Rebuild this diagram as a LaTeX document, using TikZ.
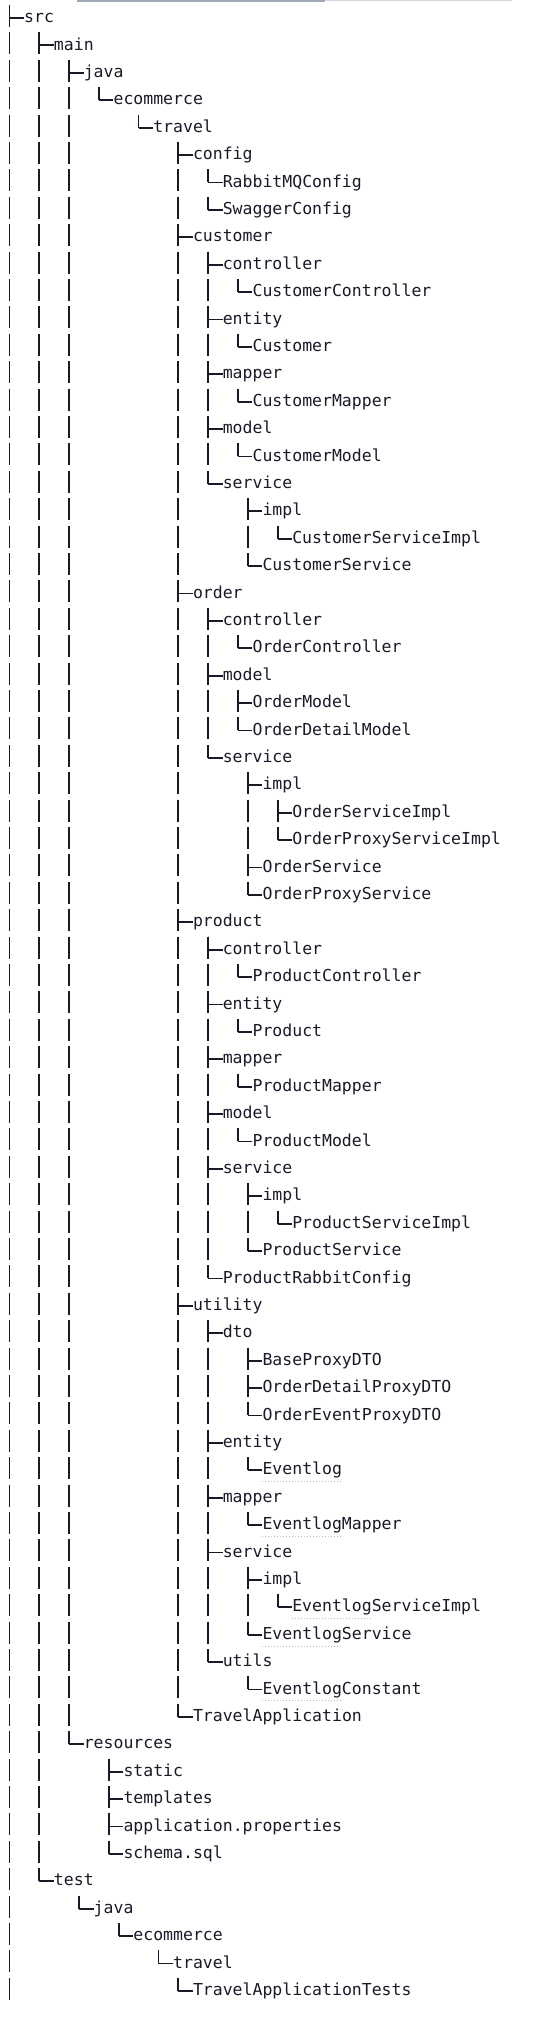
\documentclass[tikz,border=0pt]{standalone}
\usepackage{fontspec}
\setmonofont{DejaVu Sans Mono}
\usepackage{xcolor}
\usetikzlibrary{calc}

\definecolor{ink}{RGB}{25,25,40}
\definecolor{tabbar}{RGB}{160,168,185}
\definecolor{tabline}{RGB}{215,215,222}
\definecolor{typogreen}{RGB}{165,200,165}

\begin{document}
\begin{tikzpicture}[
    x=1pt, y=1pt,
    % one line of the listing, west anchor on the middle of the x-height
    entry/.style={anchor=west, inner sep=0pt, text height=13pt, text depth=3.6pt,
      font=\ttfamily\fontsize{16.5}{16.5}\selectfont, text=ink},
    % vertical guide, broken between lines
    stem/.style={draw=ink, line width=1.8pt, dash pattern=on 22pt off 5.4pt},
    arm/.style={draw=ink, line width=1.8pt},
    typo/.style={draw=typogreen, line width=1pt, dotted},
  ]
  \useasboundingbox (0,0) rectangle (538,-2026);

  % strip left at the top of the screenshot
  \fill[tabbar] (77,0) rectangle (325,-2);
  \fill[tabline] (325,-0.4) rectangle (512,-1.4);

  % line / column / name / text
  \foreach \row/\col/\nm/\lbl in {
      1/0/src/src, 2/3/main/main, 3/6/java/java, 4/9/ecom/ecommerce,
      5/13/travel/travel, 6/17/config/config, 7/20/rabbitcfg/RabbitMQConfig,
      8/20/swaggercfg/SwaggerConfig, 9/17/customer/customer,
      10/20/custctrl/controller, 11/23/custctrlcls/CustomerController,
      12/20/custent/entity, 13/23/custentcls/Customer,
      14/20/custmap/mapper, 15/23/custmapcls/CustomerMapper,
      16/20/custmod/model, 17/23/custmodcls/CustomerModel,
      18/20/custsvc/service, 19/24/custimpl/impl,
      20/27/custimplcls/CustomerServiceImpl, 21/24/custsvccls/CustomerService,
      22/17/order/order, 23/20/ordctrl/controller, 24/23/ordctrlcls/OrderController,
      25/20/ordmod/model, 26/23/ordmodcls/OrderModel, 27/23/orddetcls/OrderDetailModel,
      28/20/ordsvc/service, 29/24/ordimpl/impl, 30/27/ordimplcls/OrderServiceImpl,
      31/27/ordproxyimplcls/OrderProxyServiceImpl, 32/24/ordsvccls/OrderService,
      33/24/ordproxycls/OrderProxyService,
      34/17/product/product, 35/20/prodctrl/controller,
      36/23/prodctrlcls/ProductController, 37/20/prodent/entity,
      38/23/prodentcls/Product, 39/20/prodmap/mapper, 40/23/prodmapcls/ProductMapper,
      41/20/prodmod/model, 42/23/prodmodcls/ProductModel, 43/20/prodsvc/service,
      44/24/prodimpl/impl, 45/27/prodimplcls/ProductServiceImpl,
      46/24/prodsvccls/ProductService, 47/20/prodrabbit/ProductRabbitConfig,
      48/17/utility/utility, 49/20/dto/dto, 50/24/basedto/BaseProxyDTO,
      51/24/detaildto/OrderDetailProxyDTO, 52/24/eventdto/OrderEventProxyDTO,
      53/20/utilent/entity, 54/24/eventlog/Eventlog, 55/20/utilmap/mapper,
      56/24/eventlogmap/EventlogMapper, 57/20/utilsvc/service, 58/24/utilimpl/impl,
      59/27/eventlogimpl/EventlogServiceImpl, 60/24/eventlogsvc/EventlogService,
      61/20/utils/utils, 62/24/eventlogconst/EventlogConstant,
      63/17/app/TravelApplication,
      64/6/resources/resources, 65/10/static/static, 66/10/templates/templates,
      67/10/props/application.properties, 68/10/schema/schema.sql,
      69/3/test/test, 70/7/testjava/java, 71/11/testecom/ecommerce,
      72/15/testtravel/travel, 73/17/apptests/TravelApplicationTests}
    \node[entry] (\nm) at ({24+9.93*\col}, {-18-27.4*(\row-1)}) {\lbl};

  % src hangs on a guide that runs past both ends
  \coordinate (srctop) at ([xshift=-14.5pt, yshift=13pt]src.west);
  \path (srctop |- apptests.west) ++(0,-10) coordinate (srcend);
  \draw[stem] (srctop) -- (srcend);
  \draw[arm] (srctop |- src.west) -- (src.west);

  % guide starts below the first node, ends on the second
  \foreach \from/\nm in {
      src/main, main/java, java/ecom, ecom/travel,
      travel/config, config/rabbitcfg, rabbitcfg/swaggercfg,
      travel/customer, customer/custctrl, custctrl/custctrlcls,
      customer/custent, custent/custentcls, customer/custmap, custmap/custmapcls,
      customer/custmod, custmod/custmodcls, customer/custsvc, custsvc/custimpl,
      custimpl/custimplcls, custsvc/custsvccls,
      travel/order, order/ordctrl, ordctrl/ordctrlcls, order/ordmod,
      ordmod/ordmodcls, ordmod/orddetcls, order/ordsvc, ordsvc/ordimpl,
      ordimpl/ordimplcls, ordimpl/ordproxyimplcls, ordsvc/ordsvccls, ordsvc/ordproxycls,
      travel/product, product/prodctrl, prodctrl/prodctrlcls, product/prodent,
      prodent/prodentcls, product/prodmap, prodmap/prodmapcls, product/prodmod,
      prodmod/prodmodcls, product/prodsvc, prodsvc/prodimpl, prodimpl/prodimplcls,
      prodsvc/prodsvccls, product/prodrabbit,
      travel/utility, utility/dto, dto/basedto, dto/detaildto, dto/eventdto,
      utility/utilent, utilent/eventlog, utility/utilmap, utilmap/eventlogmap,
      utility/utilsvc, utilsvc/utilimpl, utilimpl/eventlogimpl, utilsvc/eventlogsvc,
      utility/utils, utils/eventlogconst, travel/app,
      main/resources, resources/static, resources/templates, resources/props,
      resources/schema,
      src/test, test/testjava, testjava/testecom, testecom/testtravel,
      testtravel/apptests}
  {
    \path ([xshift=-14.5pt]\nm.west) coordinate (bar)
          ([yshift=-14.4pt]\from.west) coordinate (top);
    \draw[stem] (bar |- top) -- (bar);
    \draw[arm] (bar) -- (\nm.west);
  }

  % spell-check marks under the word Eventlog
  \foreach \nm in {eventlog, eventlogmap, eventlogimpl, eventlogsvc, eventlogconst}
    \draw[typo] ([yshift=-11.5pt]\nm.west) -- ++(80,0);
\end{tikzpicture}
\end{document}
